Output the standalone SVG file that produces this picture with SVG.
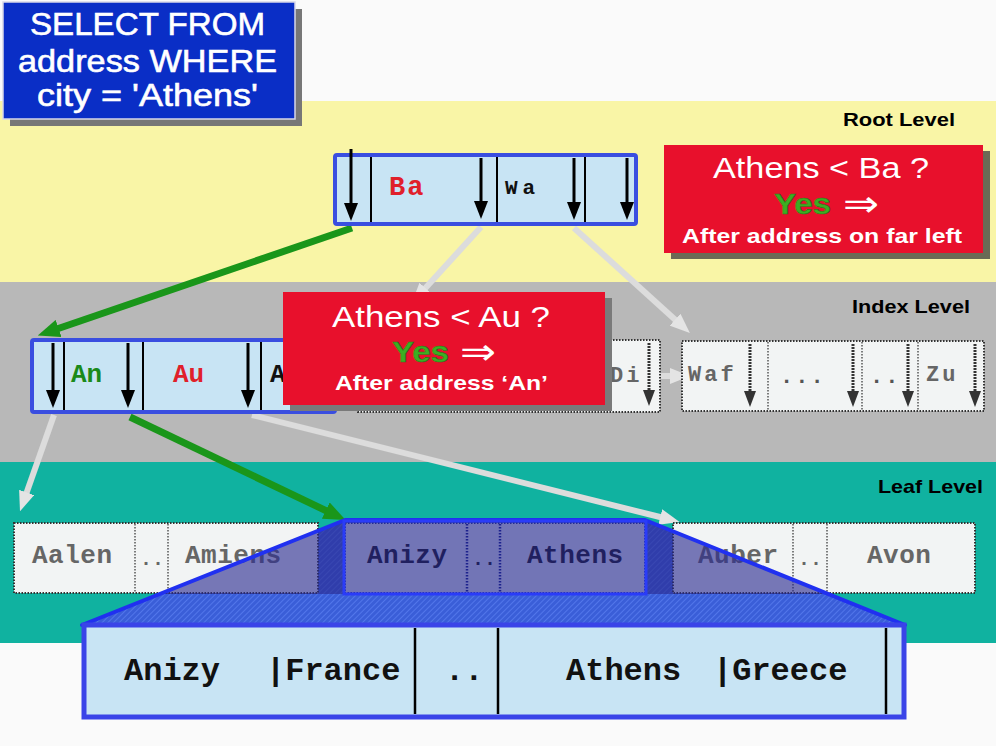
<svg xmlns="http://www.w3.org/2000/svg" width="996" height="746" viewBox="0 0 996 746">
<style>
.sans{font-family:"Liberation Sans",Arial,sans-serif}
.mono{font-family:"Liberation Mono","Courier New",monospace;font-weight:bold}
.lvl{font-family:"Liberation Sans",Arial,sans-serif;font-weight:bold;font-size:19px;fill:#000}
.wt{fill:#fff}
.arr{font-family:"DejaVu Sans",sans-serif;fill:#fff;font-size:36px}
.bnode{fill:#c8e4f4;stroke:#3a4ee0;stroke-width:4}
.gnode{fill:#f2f4f4;stroke:#333;stroke-width:2;stroke-dasharray:1.5 1.5}
.div{stroke:#000;stroke-width:2}
.gdiv{stroke:#555;stroke-width:1.5;stroke-dasharray:1.5 1.5}
.blk{stroke:#000;stroke-width:3;marker-end:url(#mBlk)}
.dgr{stroke:#333;stroke-width:3;stroke-dasharray:2 1;marker-end:url(#mDg)}
.green{stroke:#1a961a;stroke-width:7;fill:none;marker-end:url(#mGreen)}
.gray{stroke:#dcdcdc;stroke-width:6;fill:none;marker-end:url(#mGray)}
.pink{stroke:#c04aa8;stroke-width:2.5;stroke-dasharray:2 1;marker-end:url(#mPink)}
.red{fill:#e8102c}
</style>
<defs>
<marker id="mBlk" markerUnits="userSpaceOnUse" viewBox="0 0 18 14" markerWidth="18" markerHeight="14" refX="8" refY="7" orient="auto"><path d="M0,0 L18,7 L0,14 z" fill="#000"/></marker>
<marker id="mDg" markerUnits="userSpaceOnUse" viewBox="0 0 16 12" markerWidth="16" markerHeight="12" refX="6" refY="6" orient="auto"><path d="M0,0 L16,6 L0,12 z" fill="#333"/></marker>
<marker id="mGreen" markerUnits="userSpaceOnUse" viewBox="0 0 22 18" markerWidth="22" markerHeight="18" refX="8" refY="9" orient="auto"><path d="M0,0 L22,9 L0,18 z" fill="#1a961a"/></marker>
<marker id="mGray" markerUnits="userSpaceOnUse" viewBox="0 0 20 16" markerWidth="20" markerHeight="16" refX="8" refY="8" orient="auto"><path d="M0,0 L20,8 L0,16 z" fill="#e4e4e4"/></marker>
<marker id="mPink" markerUnits="userSpaceOnUse" viewBox="0 0 10 8" markerWidth="10" markerHeight="8" refX="2" refY="4" orient="auto"><path d="M0,0 L10,4 L0,8 z" fill="#c04aa8"/></marker>
<pattern id="hatch" width="4" height="4" patternUnits="userSpaceOnUse" patternTransform="rotate(45)"><rect width="4" height="4" fill="#3a5ed8"/><line x1="0" y1="0" x2="0" y2="4" stroke="#5a7ef0" stroke-width="1.5"/></pattern>
</defs>

<!-- bands -->
<rect x="0" y="0" width="996" height="746" fill="#fafafa"/>
<rect x="0" y="101" width="996" height="181" fill="#f9f5a6"/>
<rect x="0" y="282" width="996" height="180" fill="#b8b8b8"/>
<rect x="0" y="462" width="996" height="181" fill="#10b2a0"/>

<!-- query box -->
<g id="query">
<rect x="10" y="9" width="292" height="117" fill="#777"/>
<rect x="3" y="2" width="292" height="117" fill="#0a2ec6" stroke="#d8d8e8" stroke-width="1.5"/>
<text class="sans wt" x="30" y="35" font-size="32" textLength="235" lengthAdjust="spacingAndGlyphs" stroke="#fff" stroke-width="0.6">SELECT FROM</text>
<text class="sans wt" x="18" y="72" font-size="32" textLength="259" lengthAdjust="spacingAndGlyphs" stroke="#fff" stroke-width="0.6">address WHERE</text>
<text class="sans wt" x="37" y="106" font-size="32" textLength="221" lengthAdjust="spacingAndGlyphs" stroke="#fff" stroke-width="0.6">city = 'Athens'</text>
</g>

<!-- level labels -->
<text class="lvl" x="843" y="126" textLength="112" lengthAdjust="spacingAndGlyphs">Root Level</text>
<text class="lvl" x="852" y="313" textLength="118" lengthAdjust="spacingAndGlyphs">Index Level</text>
<text class="lvl" x="878" y="493" textLength="105" lengthAdjust="spacingAndGlyphs">Leaf Level</text>

<!-- connectors -->
<g id="connectors">
<line class="gray" x1="481" y1="227" x2="420" y2="294"/>
<line class="gray" x1="574" y1="228" x2="681" y2="325"/>
<line class="gray" x1="54" y1="415" x2="24" y2="500"/>
<line class="gray" x1="252" y1="415" x2="668" y2="519"/>
<line class="gray" x1="657" y1="376" x2="678" y2="376"/>
<line class="green" x1="352" y1="228" x2="51" y2="331"/>
<line class="green" x1="130" y1="417" x2="333" y2="514"/>
<line class="pink" x1="318" y1="557" x2="337" y2="557"/>
<line class="pink" x1="645" y1="557" x2="664" y2="557"/>
</g>

<!-- root node -->
<g id="root">
<rect class="bnode" x="335" y="155" width="301" height="69" rx="2"/>
<line class="div" x1="371" y1="157" x2="371" y2="222"/>
<line class="div" x1="497" y1="157" x2="497" y2="222"/>
<line class="div" x1="585" y1="157" x2="585" y2="222"/>
<text class="mono" x="389" y="195" font-size="27" fill="#e0202a" letter-spacing="2">Ba</text>
<text class="mono" x="505" y="194" font-size="21" fill="#111" letter-spacing="5">Wa</text>
<line class="blk" x1="351" y1="149" x2="351" y2="211"/>
<line class="blk" x1="481" y1="158" x2="481" y2="209"/>
<line class="blk" x1="574" y1="158" x2="574" y2="210"/>
<line class="blk" x1="627" y1="158" x2="627" y2="210"/>
</g>

<!-- index node 1 -->
<g id="index1">
<rect class="bnode" x="32" y="340" width="303" height="72" rx="2"/>
<line class="div" x1="64" y1="342" x2="64" y2="410"/>
<line class="div" x1="143" y1="342" x2="143" y2="410"/>
<line class="div" x1="261" y1="342" x2="261" y2="410"/>
<text class="mono" x="71" y="382" font-size="26" fill="#1a8a1a">An</text>
<text class="mono" x="173" y="382" font-size="26" fill="#e0202a">Au</text>
<text class="mono" x="270" y="382" font-size="26" fill="#111">A</text>
<line class="blk" x1="53" y1="343" x2="53" y2="398"/>
<line class="blk" x1="128" y1="343" x2="128" y2="398"/>
<line class="blk" x1="248" y1="343" x2="248" y2="398"/>
</g>

<!-- index node 2 -->
<g id="index2">
<rect class="gnode" x="358" y="340" width="302" height="72"/>
<text class="mono" x="610" y="382" font-size="22" fill="#666" letter-spacing="3">Di</text>
<line class="dgr" x1="649" y1="343" x2="649" y2="396"/>
</g>

<!-- index node 3 -->
<g id="index3">
<rect class="gnode" x="682" y="341" width="302" height="70"/>
<line class="gdiv" x1="768" y1="342" x2="768" y2="410"/>
<line class="gdiv" x1="862" y1="342" x2="862" y2="410"/>
<line class="gdiv" x1="918" y1="342" x2="918" y2="410"/>
<text class="mono" x="688" y="381" font-size="22" fill="#666" letter-spacing="3">Waf</text>
<text class="mono" x="780" y="383" font-size="22" fill="#555" letter-spacing="2">...</text>
<text class="mono" x="870" y="383" font-size="22" fill="#555" letter-spacing="2">..</text>
<text class="mono" x="926" y="381" font-size="22" fill="#666" letter-spacing="3">Zu</text>
<line class="dgr" x1="750" y1="344" x2="750" y2="397"/>
<line class="dgr" x1="853" y1="344" x2="853" y2="397"/>
<line class="dgr" x1="908" y1="344" x2="908" y2="397"/>
<line class="dgr" x1="975" y1="344" x2="975" y2="397"/>
</g>

<!-- red box 1 -->
<g id="note-root">
<rect x="671" y="151" width="319" height="108" fill="#6a6a55"/>
<rect class="red" x="664" y="145" width="319" height="108"/>
<text class="sans wt" x="713" y="178" font-size="30" textLength="216" lengthAdjust="spacingAndGlyphs">Athens &lt; Ba ?</text>
<text class="sans" x="774" y="214" font-size="30" font-weight="bold" fill="#3cae22" stroke="#2a7a18" stroke-width="0.6" textLength="57" lengthAdjust="spacingAndGlyphs">Yes</text>
<text class="arr" x="843" y="216" textLength="36" lengthAdjust="spacingAndGlyphs">⇒</text>
<text class="sans wt" x="682" y="243" font-size="21" font-weight="bold" textLength="280" lengthAdjust="spacingAndGlyphs">After address on far left</text>
</g>

<!-- red box 2 -->
<g id="note-index">
<rect x="290" y="298" width="322" height="113" fill="#7a7a7a"/>
<rect class="red" x="283" y="292" width="322" height="113"/>
<text class="sans wt" x="332" y="327" font-size="30" textLength="218" lengthAdjust="spacingAndGlyphs">Athens &lt; Au ?</text>
<text class="sans" x="392" y="362" font-size="30" font-weight="bold" fill="#3cae22" stroke="#2a7a18" stroke-width="0.6" textLength="57" lengthAdjust="spacingAndGlyphs">Yes</text>
<text class="arr" x="460" y="364" textLength="36" lengthAdjust="spacingAndGlyphs">⇒</text>
<text class="sans wt" x="335" y="390" font-size="21" font-weight="bold" textLength="213" lengthAdjust="spacingAndGlyphs">After address ‘An’</text>
</g>

<!-- zoom trapezoid (underlay) -->
<polygon points="345,520 645,520 905,625 82,625" fill="url(#hatch)"/>

<!-- leaf nodes -->
<g id="leaf1">
<rect class="gnode" x="14" y="523" width="304" height="70"/>
<line class="gdiv" x1="135" y1="524" x2="135" y2="592"/>
<line class="gdiv" x1="168" y1="524" x2="168" y2="592"/>
<text class="mono" x="32" y="563" font-size="26" fill="#666" letter-spacing="0.5">Aalen</text>
<text class="mono" x="140" y="565" font-size="20" fill="#666">..</text>
<text class="mono" x="185" y="563" font-size="26" fill="#666" letter-spacing="0.5">Amiens</text>
</g>
<g id="leaf2">
<rect x="345" y="523" width="300" height="70" fill="#e8eef4" stroke="#1a2a9a" stroke-width="2" stroke-dasharray="1.5 1.5"/>
<line x1="467" y1="524" x2="467" y2="592" stroke="#0a1a8a" stroke-width="2.5" stroke-dasharray="1.5 1.5"/>
<line x1="500" y1="524" x2="500" y2="592" stroke="#0a1a8a" stroke-width="2.5" stroke-dasharray="1.5 1.5"/>
<text class="mono" x="367" y="563" font-size="26" fill="#111" letter-spacing="0.5">Anizy</text>
<text class="mono" x="472" y="565" font-size="20" fill="#111">..</text>
<text class="mono" x="527" y="563" font-size="26" fill="#111" letter-spacing="0.5">Athens</text>
</g>
<g id="leaf3">
<rect class="gnode" x="673" y="523" width="302" height="70"/>
<line class="gdiv" x1="793" y1="524" x2="793" y2="592"/>
<line class="gdiv" x1="827" y1="524" x2="827" y2="592"/>
<text class="mono" x="698" y="563" font-size="26" fill="#666" letter-spacing="0.5">Auber</text>
<text class="mono" x="798" y="565" font-size="20" fill="#666">..</text>
<text class="mono" x="867" y="563" font-size="26" fill="#666" letter-spacing="0.5">Avon</text>
</g>

<!-- zoom trapezoid overlay on leaves, then outline -->
<polygon points="345,520 645,520 829,594 160,594" fill="#2a2a90" fill-opacity="0.62"/>
<polygon points="345,520 645,520 905,625 82,625" fill="none" stroke="#2030f0" stroke-width="4" stroke-linejoin="round"/>
<rect x="344" y="521" width="302" height="73" fill="none" stroke="#2a3cf8" stroke-width="3"/>

<!-- zoomed record -->
<g id="record">
<rect x="84" y="625" width="820" height="92" fill="#c8e4f4" stroke="#3a44e8" stroke-width="5"/>
<line class="div" x1="415" y1="628" x2="415" y2="714" style="stroke-width:2.5"/>
<line class="div" x1="498" y1="628" x2="498" y2="714" style="stroke-width:2.5"/>
<line class="div" x1="886" y1="628" x2="886" y2="714" style="stroke-width:2.5"/>
<text class="mono" x="124" y="680" font-size="32" fill="#111">Anizy</text>
<text class="mono" x="266" y="680" font-size="32" fill="#111">|France</text>
<text class="mono" x="445" y="680" font-size="32" fill="#111">..</text>
<text class="mono" x="566" y="680" font-size="32" fill="#111">Athens</text>
<text class="mono" x="713" y="680" font-size="32" fill="#111">|Greece</text>
</g>
</svg>
